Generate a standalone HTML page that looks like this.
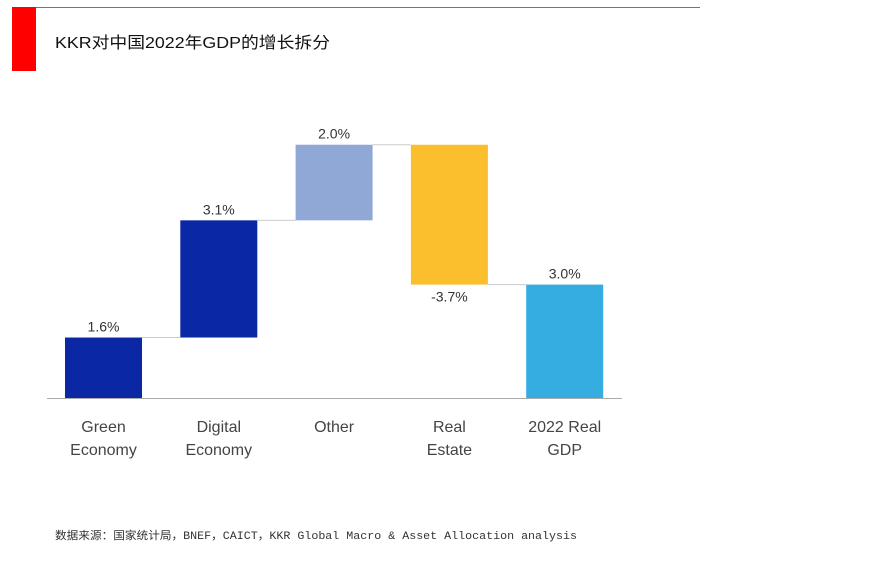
<!DOCTYPE html>
<html><head><meta charset="utf-8"><style>
body{margin:0;background:#fff;width:888px;height:566px;overflow:hidden;font-family:"Liberation Sans","Noto Sans CJK SC",sans-serif}
</style></head><body>
<svg width="888" height="566" style="position:absolute;left:0;top:0">
<line x1="12" y1="7.5" x2="700" y2="7.5" stroke="#f04048" stroke-width="1"/>
<rect x="12" y="7" width="24" height="64" fill="#ff0000"/>
<text x="55" y="48" font-size="16" fill="#111" textLength="275" lengthAdjust="spacingAndGlyphs" font-family="Liberation Sans, Noto Sans CJK SC, sans-serif">KKR对中国2022年GDP的增长拆分</text>
<g id="plot"></g>
<line x1="47" y1="398.5" x2="622" y2="398.5" stroke="#aaa"/>
<text x="55" y="539" font-size="11" fill="#333" textLength="522" lengthAdjust="spacingAndGlyphs" font-family="Liberation Mono, Noto Sans CJK SC, monospace">数据来源：国家统计局，BNEF，CAICT，KKR Global Macro &amp; Asset Allocation analysis</text>
</svg>
<script>
const categories=[["Green","Economy"],["Digital","Economy"],["Other"],["Real","Estate"],["2022 Real","GDP"]];
const values=[1.6,3.1,2.0,-3.7,3.0];
const labels=["1.6%","3.1%","2.0%","-3.7%","3.0%"];
const isTotal=[false,false,false,false,true];
const colors=["#0a27a5","#0a27a5","#8fa8d6","#fbbf2e","#35ade0"];
const base=398,k=37.8,x0=65,step=115.3,bw=77;
const y=v=>base-v*k;
const g=document.getElementById('plot');
const NS="http://www.w3.org/2000/svg";
function mk(t,a){const e=document.createElementNS(NS,t);for(const n in a)e.setAttribute(n,a[n]);g.appendChild(e);return e;}
let cum=0;
values.forEach((v,i)=>{
  let lo,hi,end;
  if(isTotal[i]){lo=0;hi=v;end=v;}else{end=cum+v;lo=Math.min(cum,end);hi=Math.max(cum,end);}
  const x=x0+i*step;
  if(i>0){const c=mk('line',{x1:x-step+bw,x2:x,y1:y(cum),y2:y(cum),stroke:'#ccc','stroke-width':1});
    
    }
  const r=mk('rect',{x:x,y:y(hi),width:bw,height:y(lo)-y(hi),fill:colors[i]});
  
  
  const ly=v<0?y(lo)+17:y(hi)-6;
  const t=mk('text',{x:x+bw/2,y:ly,'text-anchor':'middle','font-size':14,fill:'#333'});
  t.textContent=labels[i];
  
  
  categories[i].forEach((s,j)=>{const c=mk('text',{x:x+bw/2,y:432+j*23,'text-anchor':'middle','font-size':16,fill:'#444'});
    c.textContent=s;
    
    });
  cum=end;
});
</script>
</body></html>
